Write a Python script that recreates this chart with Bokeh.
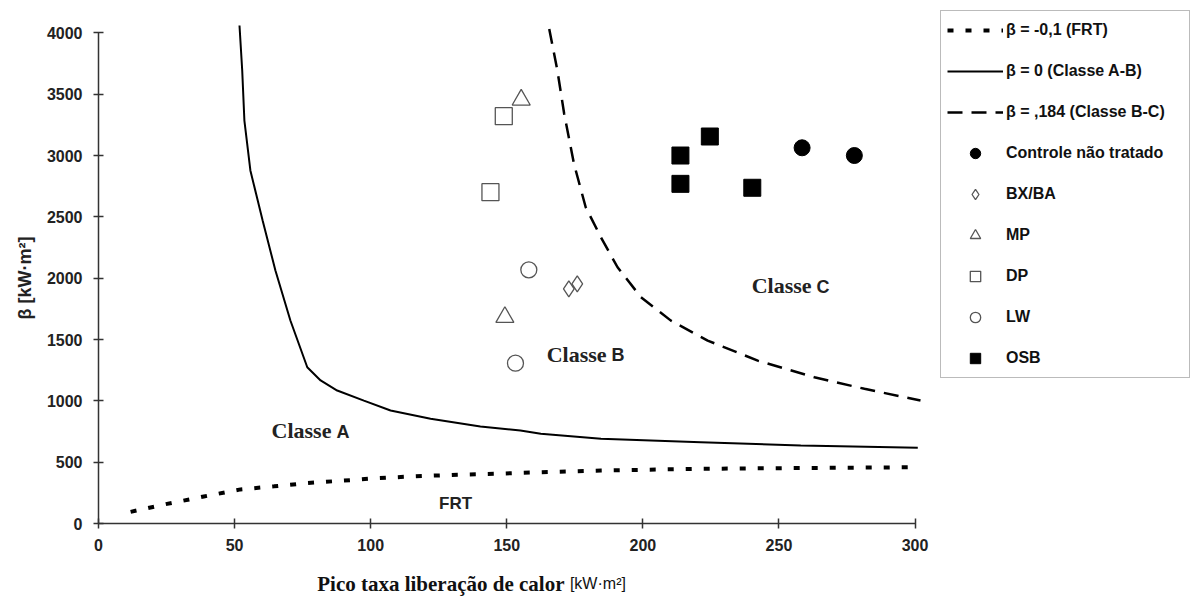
from bokeh.plotting import figure
from bokeh.models import Legend, LegendItem, Label, Range1d, FixedTicker
from bokeh.core.properties import value
from bokeh.embed import file_html
from bokeh.resources import INLINE

# --- classification boundary curves -------------------------------------
frt_x = [11.8, 25.2, 38.7, 52.2, 64.5, 76.7, 90.2, 101.2, 114.7, 131.9, 146.6, 152.7, 184.6, 221.3, 258.0, 301.0]
frt_y = [95, 160, 220, 278, 303, 330, 350, 368, 383, 398, 406, 411, 432, 446, 452, 459]

ab_x = [51.8, 52.8, 53.6, 55.8, 60.3, 65.0, 70.5, 76.7, 81.6, 87.7, 97.5, 107.3, 122.0, 140.3, 155.0, 162.5, 184.6, 221.3, 258.0, 301.0]
ab_y = [4060, 3693, 3285, 2878, 2470, 2063, 1655, 1274, 1166, 1084, 1002, 921, 854, 791, 758, 731, 690, 663, 636, 617]

bc_x = [165.6, 168.6, 171.1, 174.7, 179.0, 184.6, 190.7, 199.3, 210.3, 223.8, 242.2, 263.0, 281.4, 302.0]
bc_y = [4031, 3692, 3339, 2931, 2578, 2333, 2089, 1845, 1654, 1491, 1328, 1192, 1098, 1002]

# --- measured specimens ---------------------------------------------------
ctrl_x = [258.5, 277.7]
ctrl_y = [3063, 3000]
bx_x = [172.8, 175.9]
bx_y = [1913, 1954]
mp_x = [155.3, 149.3]
mp_y = [3454, 1682]
dp_x = [148.9, 144.0]
dp_y = [3321, 2701]
lw_x = [158.1, 153.2]
lw_y = [2068, 1307]
osb_x = [213.8, 224.6, 213.8, 240.2]
osb_y = [3000, 3155, 2769, 2737]

# --- region annotations ---------------------------------------------------
class_word = ["Classe", "Classe", "Classe"]
class_letter = ["A", "B", "C"]
class_x = [86.3, 187.4, 262.7]
class_y = [758, 1378, 1940]
frt_label = "FRT"
frt_label_x = 131.2
frt_label_y = 160

x_ticks = [0, 50, 100, 150, 200, 250, 300]
y_ticks = [0, 500, 1000, 1500, 2000, 2500, 3000, 3500, 4000]

SANS = "Liberation Sans"
SERIF = "Liberation Serif"
OPEN = "#555555"

# The plotting frame fills the whole canvas; the axes sit at x=0 / y=0 so that
# the title text and the legend can live in the same drawing area.
W, H = 1191, 601
LEFT, RIGHT_X, TOP, BOTTOM_Y = 98, 920, 25, 523      # pixel positions of the data window
X_MAX, Y_MAX = 302, 4060
kx = (RIGHT_X - LEFT) / X_MAX
ky = (BOTTOM_Y - TOP) / Y_MAX
x_rng = Range1d(-LEFT / kx, (W - LEFT) / kx)
y_rng = Range1d(-(H - BOTTOM_Y) / ky, Y_MAX + TOP / ky)

p = figure(width=W, height=H, output_backend="svg", toolbar_location=None,
           x_range=x_rng, y_range=y_rng, min_border=0,
           min_border_left=0, min_border_right=0, min_border_top=0, min_border_bottom=0)
p.outline_line_color = None
p.xgrid.visible = False
p.ygrid.visible = False
p.background_fill_color = "white"
p.border_fill_color = "white"

for ax in (p.xaxis[0], p.yaxis[0]):
    ax.fixed_location = 0
    ax.axis_line_color = "#333333"
    ax.axis_line_width = 1.5
    ax.major_tick_line_color = "#333333"
    ax.major_tick_line_width = 1.5
    ax.major_tick_in = 5
    ax.major_tick_out = 5
    ax.minor_tick_line_color = None
    ax.major_label_text_color = "#222222"
    ax.major_label_text_font_style = "bold"

p.xaxis.bounds = (0, 300)
p.xaxis.ticker = FixedTicker(ticks=x_ticks)
p.xaxis.major_label_text_font = SANS
p.xaxis.major_label_text_font_size = "16px"
p.xaxis.major_label_standoff = 10

p.yaxis.bounds = (0, 4000)
p.yaxis.ticker = FixedTicker(ticks=y_ticks)
p.yaxis.major_label_text_font = SANS
p.yaxis.major_label_text_font_size = "16px"
p.yaxis.major_label_standoff = 11
p.yaxis.axis_label = "β [kW·m²]"
p.yaxis.axis_label_text_font = SANS
p.yaxis.axis_label_text_font_style = "bold"
p.yaxis.axis_label_text_font_size = "18px"
p.yaxis.axis_label_text_color = "#222222"
p.yaxis.axis_label_standoff = 9

# boundary curves
r_frt = p.line(frt_x, frt_y, line_color="black", line_width=4, line_dash="6 12")
r_ab = p.line(ab_x, ab_y, line_color="black", line_width=2)
r_bc = p.line(bc_x, bc_y, line_color="black", line_width=2.5, line_dash="15 9")

# specimens
r_ctrl = p.scatter(ctrl_x, ctrl_y, marker="circle", size=16, fill_color="black", line_color="black")
r_bx = p.scatter(bx_x, bx_y, marker="diamond", size=16, fill_alpha=0,
                 line_color=OPEN, line_width=1.3)
r_mp = p.scatter(mp_x, mp_y, marker="triangle", size=18, fill_alpha=0, line_color=OPEN, line_width=1.3)
r_dp = p.scatter(dp_x, dp_y, marker="square", size=17, fill_alpha=0, line_color=OPEN, line_width=1.3)
r_lw = p.scatter(lw_x, lw_y, marker="circle", size=16, fill_alpha=0, line_color=OPEN, line_width=1.3)
r_osb = p.scatter(osb_x, osb_y, marker="square", size=17, fill_color="black", line_color="black")

# region names: serif word followed by a sans-serif letter
p.text(class_x, class_y, text=class_word, text_font=value(SERIF), text_font_style="bold",
       text_font_size="22px", text_align="right", text_baseline="middle", text_color="#222222",
       x_offset=-2)
p.text(class_x, class_y, text=class_letter, text_font=value(SANS), text_font_style="bold",
       text_font_size="18px", text_align="left", text_baseline="middle", text_color="#222222",
       x_offset=3, y_offset=1)
p.add_layout(Label(x=frt_label_x, y=frt_label_y, text=frt_label, text_font=SANS,
                   text_font_style="bold", text_font_size="17px", text_align="center",
                   text_baseline="middle", text_color="#222222"))

# x axis title below the tick labels
p.add_layout(Label(x=171.2, y=-490, text="Pico taxa liberação de calor", text_font=SERIF,
                   text_font_style="bold", text_font_size="21px", text_align="right",
                   text_baseline="middle", text_color="#111111"))
p.add_layout(Label(x=173.2, y=-490, text="[kW·m²]", text_font=SANS,
                   text_font_size="16px", text_align="left", text_baseline="middle",
                   text_color="#111111"))

legend = Legend(items=[
    LegendItem(label="β = -0,1 (FRT)", renderers=[r_frt]),
    LegendItem(label="β = 0 (Classe A-B)", renderers=[r_ab]),
    LegendItem(label="β = ,184 (Classe B-C)", renderers=[r_bc]),
    LegendItem(label="Controle não tratado", renderers=[r_ctrl]),
    LegendItem(label="BX/BA", renderers=[r_bx]),
    LegendItem(label="MP", renderers=[r_mp]),
    LegendItem(label="DP", renderers=[r_dp]),
    LegendItem(label="LW", renderers=[r_lw]),
    LegendItem(label="OSB", renderers=[r_osb]),
], location=(940, H - 378))
legend.label_text_font = SANS
legend.label_text_font_style = "bold"
legend.label_text_font_size = "16px"
legend.label_text_color = "#111111"
legend.glyph_width = 56
legend.glyph_height = 26
legend.label_height = 26
legend.label_width = 177
legend.spacing = 15
legend.padding = 6
legend.margin = 0
legend.label_standoff = 3
legend.border_line_color = "#777777"
legend.border_line_width = 1.5
legend.background_fill_color = "white"
p.add_layout(legend, "center")

open("out.html", "w").write(file_html(p, INLINE))
